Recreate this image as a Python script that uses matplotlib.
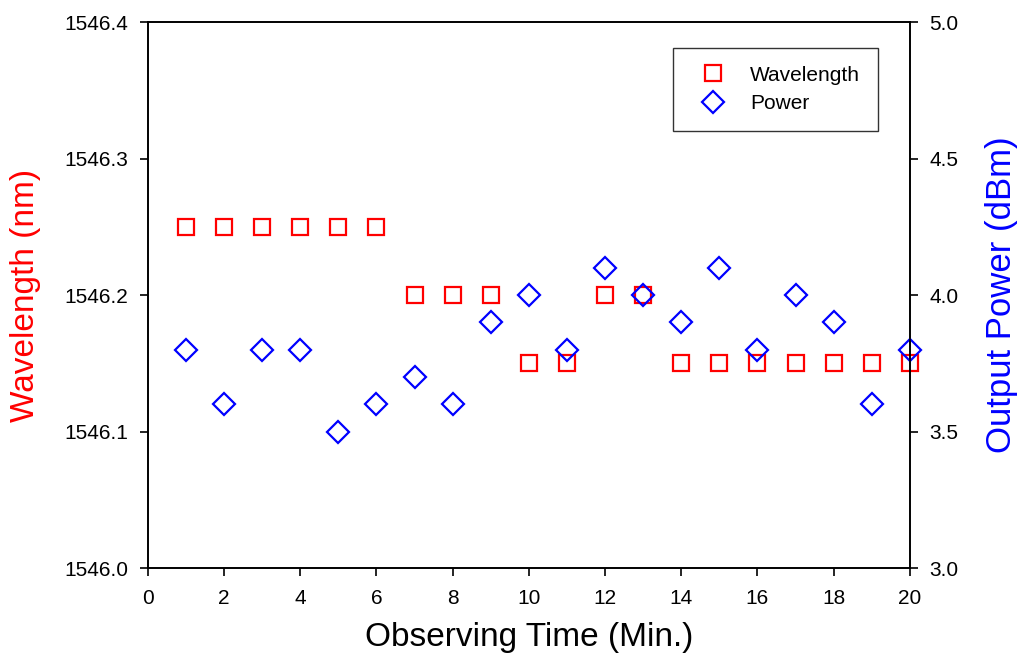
import matplotlib
matplotlib.use("Agg")
import matplotlib.pyplot as plt

plt.rcParams['font.family'] = ['Liberation Sans', 'DejaVu Sans']

time_min = list(range(1, 21))
wavelength_nm = [1546.25, 1546.25, 1546.25, 1546.25, 1546.25, 1546.25,
                 1546.20, 1546.20, 1546.20, 1546.15, 1546.15, 1546.20,
                 1546.20, 1546.15, 1546.15, 1546.15, 1546.15, 1546.15,
                 1546.15, 1546.15]
power_dbm = [3.8, 3.6, 3.8, 3.8, 3.5, 3.6, 3.7, 3.6, 3.9, 4.0,
             3.8, 4.1, 4.0, 3.9, 4.1, 3.8, 4.0, 3.9, 3.6, 3.8]

x_ticks = [0, 2, 4, 6, 8, 10, 12, 14, 16, 18, 20]
wl_ticks = [1546.0, 1546.1, 1546.2, 1546.3, 1546.4]
pw_ticks = [3.0, 3.5, 4.0, 4.5, 5.0]

fig = plt.figure(figsize=(10.2, 6.71), dpi=100)
ax = fig.add_axes([0.145, 0.1535, 0.747, 0.8135])
ax2 = ax.twinx()

l1, = ax.plot(time_min, wavelength_nm, linestyle='none', marker='s', markersize=11,
              markerfacecolor='none', markeredgecolor='#ff0000', markeredgewidth=1.6,
              label='Wavelength', clip_on=False, zorder=1)
l2, = ax2.plot(time_min, power_dbm, linestyle='none', marker='D', markersize=11.5,
               markerfacecolor='none', markeredgecolor='#0000ff', markeredgewidth=1.6,
               label='Power', clip_on=False, zorder=1)

ax.set_xlim(0, 20)
ax.set_ylim(1546.0, 1546.4)
ax2.set_ylim(3.0, 5.0)
ax.set_xticks(x_ticks)
ax.set_yticks(wl_ticks)
ax.set_yticklabels([f"{v:.1f}" for v in wl_ticks])
ax2.set_yticks(pw_ticks)
ax2.set_yticklabels([f"{v:.1f}" for v in pw_ticks])

for a in (ax, ax2):
    a.tick_params(direction='out', length=6, width=1.2, labelsize=15, pad=8)
    for s in a.spines.values():
        s.set_linewidth(1.2)
        s.set_zorder(3)
ax.tick_params(axis='x', pad=9)

ax.set_xlabel('Observing Time (Min.)', fontsize=24, labelpad=10)
ax.set_ylabel('Wavelength (nm)', fontsize=24, color='#ff0000', labelpad=17)
ax2.set_ylabel('Output Power (dBm)', fontsize=25, color='#0000ff', labelpad=19)

leg = ax2.legend(handles=[l1, l2], loc='upper right', bbox_to_anchor=(0.958, 0.953),
                 fontsize=15, frameon=True, fancybox=False, edgecolor='black',
                 borderpad=0.85, handletextpad=0.75, labelspacing=0.45, borderaxespad=0,
                 handlelength=2.1)
leg.get_frame().set_linewidth(1.0)

fig.savefig('out.png', dpi=100)
